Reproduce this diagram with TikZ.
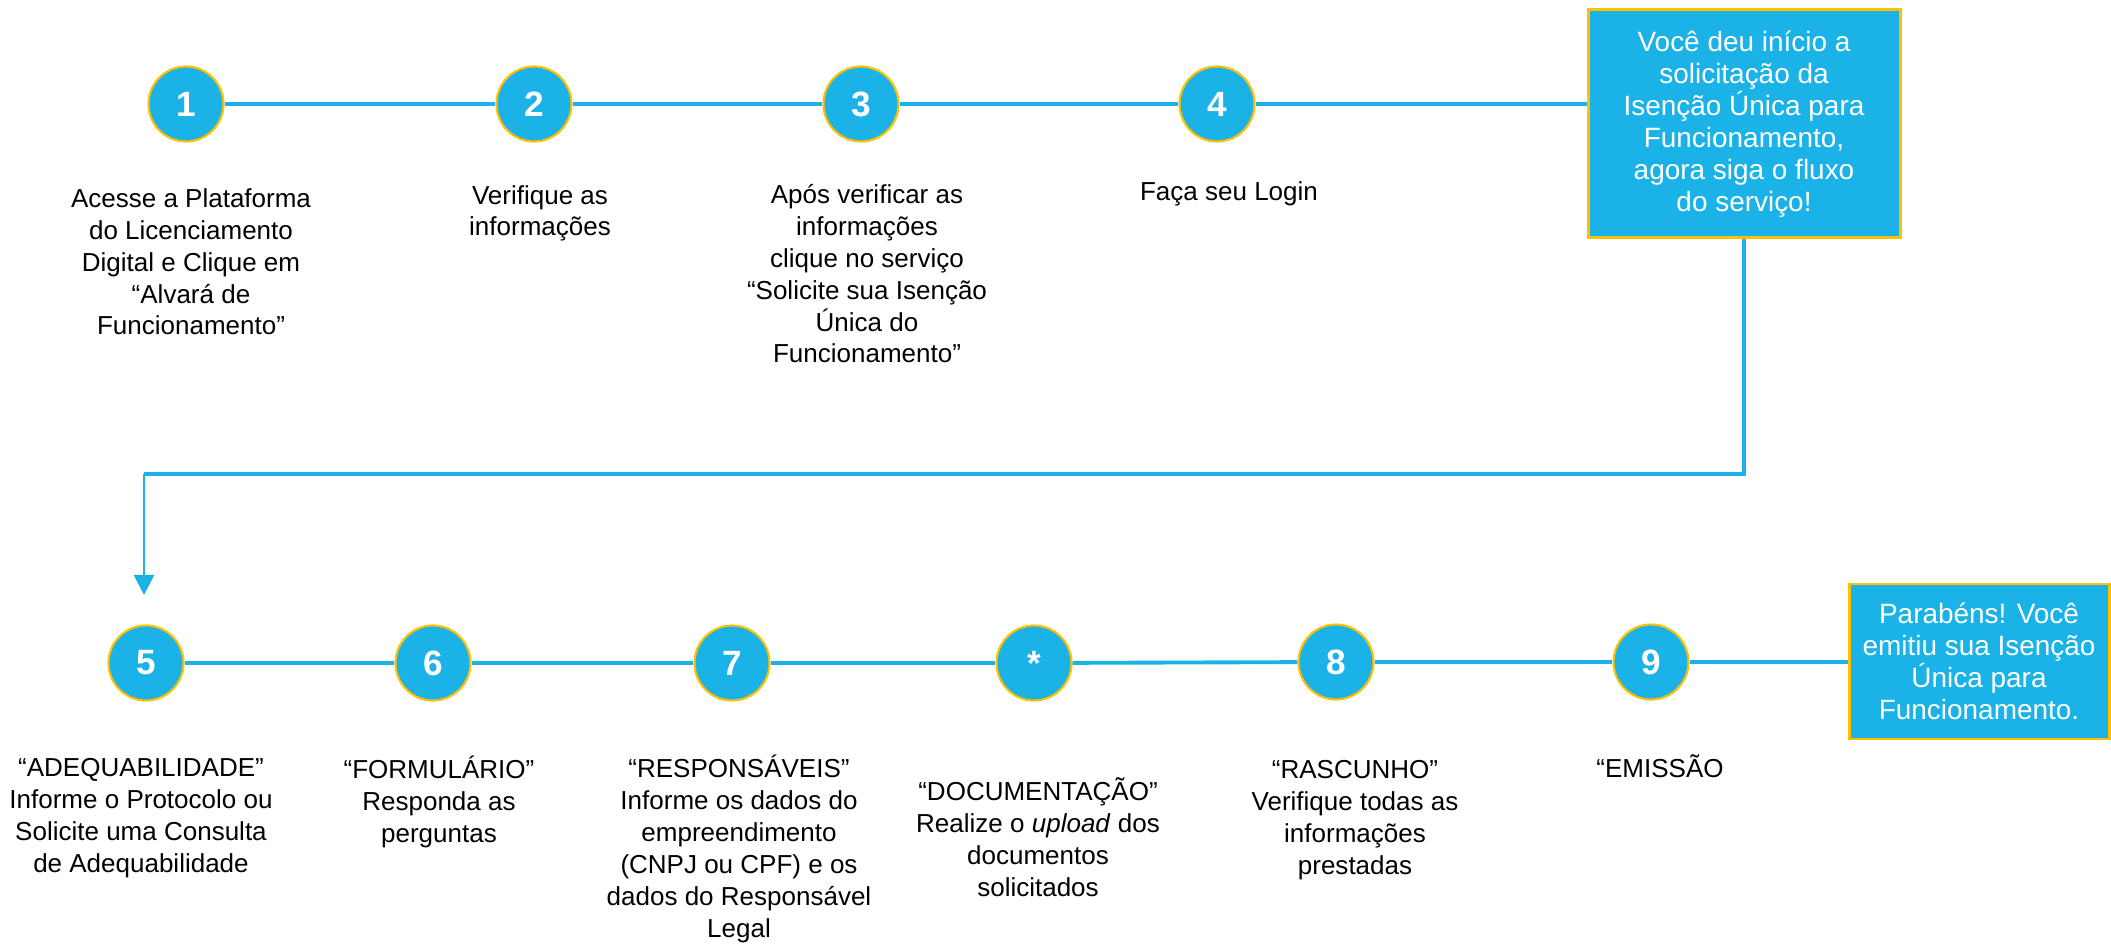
\documentclass[tikz,border=0pt]{standalone}
\usepackage{fontspec}
\setmainfont{Liberation Sans}
\usetikzlibrary{arrows.meta}
\definecolor{stepblue}{HTML}{1BB2E7}
\definecolor{stepgold}{HTML}{FFC000}

\begin{document}
\begin{tikzpicture}[
		stepdot/.style={circle, fill=stepblue, draw=stepgold, line width=0.6pt, minimum size=0.75cm, inner sep=0pt, text=white, font=\fontsize{10}{12}\selectfont\bfseries},
		infobox/.style={rectangle, fill=stepblue, draw=stepgold, line width=0.85pt, text=white, align=center, inner sep=0pt, font=\fontsize{7.95}{9.1}\selectfont},
		stepinfo/.style={align=center, anchor=base, inner sep=0pt, font=\fontsize{7.4}{9.1}\selectfont},
		link/.style={draw=stepblue, line width=1.1pt}
	]
	\useasboundingbox (0,0) rectangle (21.11,9.44);
	
	%first row of steps
	\node[stepdot] (s1) at (1.86, 8.40) {1};
	\node[stepdot] (s2) at (5.34, 8.40) {2};
	\node[stepdot] (s3) at (8.61, 8.40) {3};
	\node[stepdot] (s4) at (12.17, 8.40) {4};
	\node[infobox, minimum width=3.12cm, minimum height=2.28cm] (start) at (17.44, 8.20)
		{Você deu início a\\solicitação da\\Isenção Única para\\Funcionamento,\\agora siga o fluxo\\do serviço!};
	
	%texts sit on the base line of their last row
	\node[stepinfo] (t1) at (1.91, 6.09) {Acesse a Plataforma\\do Licenciamento\\Digital e Clique em\\“Alvará de\\Funcionamento”};
	\node[stepinfo] (t2) at (5.40, 7.08) {Verifique as\\informações};
	\node[stepinfo] (t3) at (8.67, 5.81) {Após verificar as\\informações\\clique no serviço\\“Solicite sua Isenção\\Única do\\Funcionamento”};
	\node[stepinfo] (t4) at (12.29, 7.43) {Faça seu Login};
	
	\draw[link] (s1) -- (s2);
	\draw[link] (s2) -- (s3);
	\draw[link] (s3) -- (s4);
	\draw[link] (s4) -- (s4 -| start.west);
	
	%return to the second row
	\coordinate (bend) at (1.44, 4.70);
	\coordinate (drop) at (1.44, 3.49);
	\draw[link] (start.south) |- (bend);
	\draw[link, line width=0.8pt, -{Triangle[width=0.2cm, length=0.2cm]}] (bend) -- (drop);
	
	%second row of steps
	\node[stepdot] (s5) at (1.46, 2.81) {5};
	\node[stepdot] (s6) at (4.33, 2.81) {6};
	\node[stepdot] (s7) at (7.32, 2.81) {7};
	\node[stepdot] (sd) at (10.34, 2.81) {*};
	\node[stepdot] (s8) at (13.36, 2.82) {8};
	\node[stepdot] (s9) at (16.51, 2.82) {9};
	\node[infobox, minimum width=2.60cm, minimum height=1.55cm] (done) at (19.79, 2.825)
		{Parabéns! Você\\emitiu sua Isenção\\Única para\\Funcionamento.};
	
	\node[stepinfo] (t5) at (1.41, 0.72) {“ADEQUABILIDADE”\\Informe o Protocolo ou\\Solicite uma Consulta\\de Adequabilidade};
	\node[stepinfo] (t6) at (4.39, 1.02) {“FORMULÁRIO”\\Responda as\\perguntas};
	\node[stepinfo] (t7) at (7.39, 0.07) {“RESPONSÁVEIS”\\Informe os dados do\\empreendimento\\(CNPJ ou CPF) e os\\dados do Responsável\\Legal};
	\node[stepinfo] (td) at (10.38, 0.48) {“DOCUMENTAÇÃO”\\Realize o \textit{upload} dos\\documentos\\solicitados};
	\node[stepinfo] (t8) at (13.55, 0.70) {“RASCUNHO”\\Verifique todas as\\informações\\prestadas};
	\node[stepinfo] (t9) at (16.60, 1.66) {“EMISSÃO};
	
	\draw[link] (s5) -- (s6);
	\draw[link] (s6) -- (s7);
	\draw[link] (s7) -- (sd);
	\draw[link] (sd) -- (s8);
	\draw[link] (s8) -- (s9);
	\draw[link] (s9) -- (s9 -| done.west);
\end{tikzpicture}
\end{document}
